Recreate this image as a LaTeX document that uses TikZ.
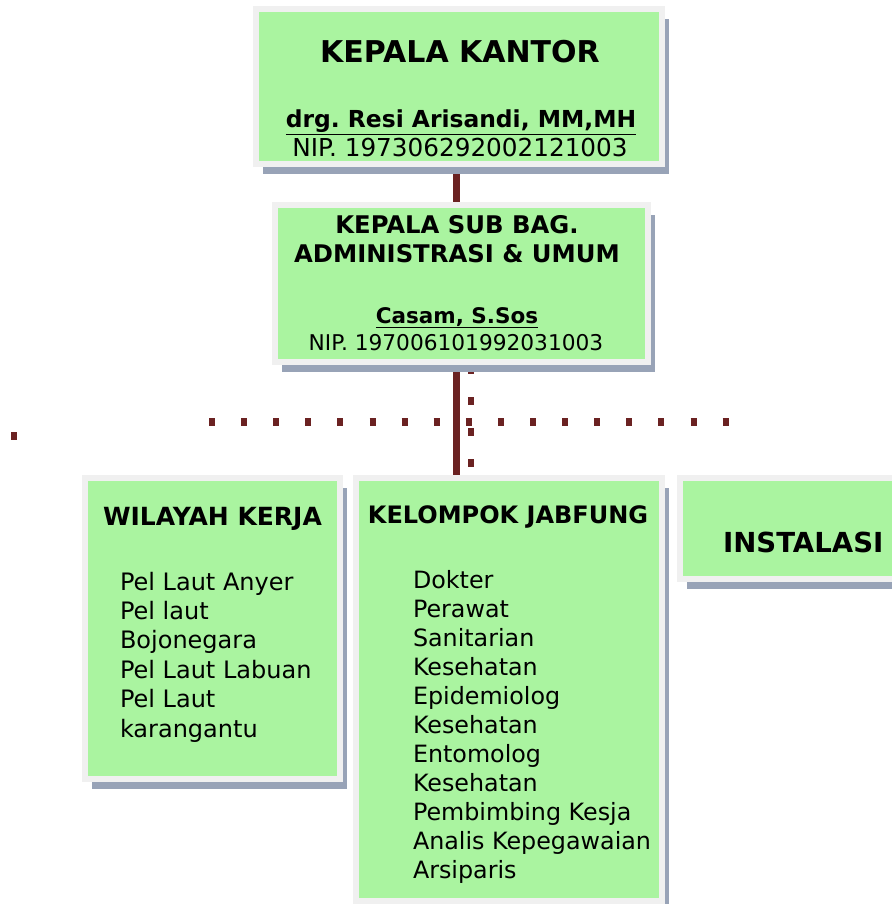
\documentclass[tikz,border=0pt]{standalone}
\usepackage{fontspec}
\setmainfont{DejaVu Sans}
\usetikzlibrary{shadows,calc}
\definecolor{boxgreen}{HTML}{AAF4A0}
\definecolor{framegray}{HTML}{F0F0F0}
\definecolor{shadowblue}{HTML}{98A3B7}
\definecolor{linered}{HTML}{6B2222}
\frenchspacing
\begin{document}
\begin{tikzpicture}[x=1pt,y=-1pt,
  orgbox/.style={draw=framegray, line width=6.5pt, fill=boxgreen, anchor=north west,
    inner sep=0pt, outer sep=0pt,
    drop shadow={shadow xshift=7pt, shadow yshift=-10pt, fill=shadowblue, opacity=1}},
  txt/.style={inner sep=0pt, outer sep=0pt, text=black},
  fs/.style={font=\fontsize{#1}{#1}\selectfont},
  fb/.style={font=\bfseries\fontsize{#1}{#1}\selectfont},
  conn/.style={draw=linered, line width=7pt},
  dotrow/.style={draw=linered, line width=8pt, dash pattern=on 6pt off 26.1pt},
  dotcol/.style={draw=linered, line width=6pt, dash pattern=on 8pt off 23pt}]
\useasboundingbox (0,0) rectangle (891,904);
% connectors
\coordinate (c1top) at (456,167);
\coordinate (c1bot) at (456,202);
\coordinate (c2top) at (456,362);
\coordinate (c2bot) at (456,475);
\draw[conn] (c1top) -- (c1bot);
\draw[conn] (c2top) -- (c2bot);
\coordinate (rowL) at (209,422);
\coordinate (rowR) at (732,422);
\draw[dotrow] (rowL) -- (rowR);
\coordinate (colT) at (471,366);
\coordinate (colB) at (471,470);
\draw[dotcol] (colT) -- (colB);
\coordinate (lone) at (14,436);
\fill[linered] ($(lone)+(-3,-4)$) rectangle ($(lone)+(3,4)$);
% boxes
\node[orgbox, minimum width=406pt, minimum height=155pt] (k1) at (256,9) {};
\node[orgbox, minimum width=373pt, minimum height=157pt] (k2) at (275,205) {};
\node[orgbox, minimum width=255pt, minimum height=301pt] (wk) at (85,478) {};
\node[orgbox, minimum width=306pt, minimum height=423pt] (kj) at (356,478) {};
\node[orgbox, minimum width=240pt, minimum height=101pt] (in) at (680,478) {};
% box 1 text
\node[txt, fb=30, anchor=base] (k1t) at (460,63) {KEPALA KANTOR};
\node[txt, fb=23.4, anchor=base] (k1n) at (461,128) {\underline{drg. Resi Arisandi, MM,MH}};
\node[txt, fs=24.7, anchor=base] (k1p) at (460,157) {NIP. 197306292002121003};
% box 2 text
\node[txt, fb=24.3, anchor=base] (k2t1) at (457,233) {KEPALA SUB BAG.};
\node[txt, fb=24.3, anchor=base] (k2t2) at (457,262) {ADMINISTRASI \& UMUM};
\node[txt, fb=21.5, anchor=base] (k2n) at (457,323) {\underline{Casam, S.Sos}};
\node[txt, fs=21.7, anchor=base] (k2p) at (456,350) {NIP. 197006101992031003};
% box 3 text
\node[txt, fb=25, anchor=base] (wkt) at (212.5,525) {WILAYAH KERJA};
\foreach \t [count=\i from 0] in {Pel Laut Anyer, Pel laut, Bojonegara, Pel Laut Labuan, Pel Laut, karangantu}
  \node[txt, fs=24, anchor=base west] (wk\i) at (120,590+29.4*\i) {\t};
% box 4 text
\node[txt, fb=24, anchor=base] (kjt) at (508,523) {KELOMPOK JABFUNG};
\foreach \t [count=\i from 0] in {Dokter, Perawat, Sanitarian, Kesehatan, Epidemiolog, Kesehatan, Entomolog, Kesehatan, Pembimbing Kesja, Analis Kepegawaian, Arsiparis}
  \node[txt, fs=23.8, anchor=base west] (kj\i) at (413,588+29*\i) {\t};
% box 5 text
\node[txt, fb=27.6, anchor=base west] (int) at (723,552) {INSTALASI};
\end{tikzpicture}
\end{document}
